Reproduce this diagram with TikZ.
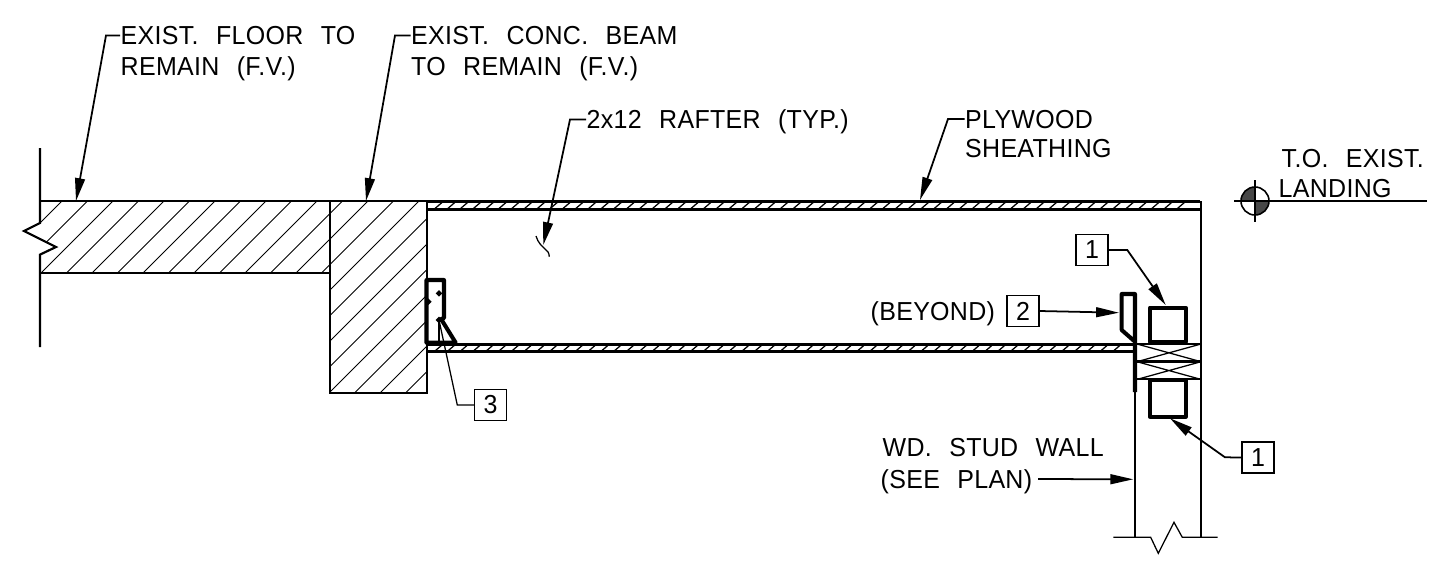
\documentclass[tikz,border=0pt]{standalone}
\usepackage{fontspec}
\setmainfont[FakeStretch=0.96,WordSpace=2.4,LetterSpace=1.2]{Liberation Sans}
\usetikzlibrary{arrows.meta}

\tikzset{
  lbl/.style={anchor=west, inner sep=0pt, text height=5.3pt, text depth=0pt, font=\fontsize{7.4}{8}\selectfont},
  tag/.style={draw, line width=0.4pt, inner sep=0pt, minimum width=0.32cm, minimum height=0.31cm, font=\fontsize{7.4}{8}\selectfont},
  leader/.style={line width=0.5pt, -{Stealth[length=6.5pt,width=2.8pt,inset=0pt]}},
  thin line/.style={line width=0.36pt},
  wall line/.style={line width=0.62pt},
  heavy line/.style={line width=0.85pt},
  metal line/.style={line width=1.15pt, line join=round}
}

\begin{document}
\begin{tikzpicture}[x=0.01cm, y=-0.01cm]
    \useasboundingbox (0,0) rectangle (1453,578);

    % draw concrete hatching
    \begin{scope}
      \clip (40,201) rectangle (331,273) (330,201) rectangle (427,393);
      \foreach \k in {0,...,22}
        \draw[line width=0.27pt] (263+25.5*\k-201,201) -- (263+25.5*\k-393,393);
    \end{scope}

    % draw floor and beam
    \draw[thin line] (40,201) -- (427,201) -- (427,393) -- (330,393) -- (330,201);
    \draw[thin line] (40,273) -- (330,273);

    % draw broken edge of floor
    \draw[fill=white, draw=none] (40,223) -- (24,231) -- (56,247) -- (40,254.6) -- cycle;
    \draw[wall line] (40,148) -- (40,223) -- (24,231) -- (56,247) -- (40,254.6) -- (40,347);

    % draw plywood
    \draw[heavy line] (427,201.7) -- (1200,201.7);
    \draw[heavy line] (427,209.3) -- (1200,209.3);
    \draw[heavy line] (427,344.5) -- (1133,344.5);
    \draw[heavy line] (427,351.7) -- (1133,351.7);
    \foreach \x in {435,447.8,...,1190}
      \draw[line width=0.36pt] (\x,208.5) -- (\x+7,202.5);
    \foreach \x in {435,447.8,...,1125}
      \draw[line width=0.36pt] (\x,351) -- (\x+7,345);

    % draw wall
    \draw[wall line] (1201,201) -- (1201,537.3);
    \draw[wall line] (1135,392) -- (1135,537.3);
    \draw[thin line] (1113.3,537.3) -- (1150.7,537.3) -- (1158.3,553.3) -- (1174,522.3) -- (1182.3,537.3) -- (1217.7,537.3);

    % draw double plate
    \draw[wall line] (1137,344) -- (1201,344);
    \draw[heavy line] (1137,361.7) -- (1201,361.7);
    \draw[wall line] (1137,379.3) -- (1201,379.3);
    \foreach \y in {344,361.7}
      \draw[thin line] (1137,\y) -- (1201,\y+17.7) (1137,\y+17.7) -- (1201,\y);

    % draw blocks
    \draw[metal line] (1150,307.7) rectangle (1185.7,341.7);
    \draw[metal line] (1150,380) rectangle (1185.7,416.7);

    % draw hangers
    \draw[metal line] (1135,341.7) -- (1121.7,330) -- (1121.7,294) -- (1135,294) -- (1135,392);
    \draw[metal line] (439,320) -- (444,318) -- (444,280) -- (426.5,280) -- (426.5,342.7) -- (455.7,342.7) -- (441.7,320);
    \draw[thin line] (439,320) -- (439,342.7);
    \foreach \x/\y in {439/293.3,439/320,428.3/301.7}
      \draw[line width=0.6pt, fill=white] (\x,\y) circle[radius=1.8];

    % draw level mark
    \fill[black!72] (1255,201) -- (1241,201) arc[start angle=180,end angle=270,radius=14] -- cycle;
    \fill[black!72] (1255,201) -- (1269,201) arc[start angle=0,end angle=90,radius=14] -- cycle;
    \draw[line width=0.45pt] (1255,201) circle[radius=14];
    \draw[line width=0.45pt] (1255,180) -- (1255,222);
    \draw[line width=0.45pt] (1234,201) -- (1427,201);

    % draw rafter mark
    \draw[thin line] (536,236) .. controls (538,243) and (542,246) .. (545,249) .. controls (548,251) and (549,253) .. (549.3,256.7);

    % draw nodes
    \draw (120,35.5) node[lbl] (floora) {EXIST. FLOOR TO};
    \draw (120,66.5) node[lbl] (floorb) {REMAIN (F.V.)};
    \draw (410.5,35.5) node[lbl] (beama) {EXIST. CONC. BEAM};
    \draw (410.5,66.5) node[lbl] (beamb) {TO REMAIN (F.V.)};
    \draw (586,119.5) node[lbl] (rafter) {2x12 RAFTER (TYP.)};
    \draw (964.5,119) node[lbl] (plya) {PLYWOOD};
    \draw (964.5,148.5) node[lbl] (plyb) {SHEATHING};
    \draw (1281,158) node[lbl] (levela) {T.O. EXIST.};
    \draw (1278,188) node[lbl] (levelb) {LANDING};
    \draw (870,311) node[lbl] (beyond) {(BEYOND)};
    \draw (882,447) node[lbl] (studa) {WD. STUD WALL};
    \draw (880,479) node[lbl] (studb) {(SEE PLAN)};
    \draw (1092,250) node[tag] (tagtop) {1};
    \draw (1023,311) node[tag] (tagclip) {2};
    \draw (490.5,405) node[tag] (taghanger) {3};
    \draw (1258,457.5) node[tag] (tagbot) {1};

    % draw leader ends
    \foreach \name/\x/\y in {floorbend/106/35.5, floortip/76/201, beambend/395/35.5, beamtip/366/201,
        rafterbend/570/119.5, raftertip/543.3/245, plybend/948/119, plytip/920/200,
        topbend/1127.3/250, toptip/1165.7/305, cliptip/1119/312.7,
        hangerbend/457.3/405, hangertip/439/320,
        botbend/1225/457.3, bottip/1170/418.3, studtip/1133.3/479.3}
      \coordinate (\name) at (\x,\y);

    % draw leaders
    \draw[leader] (floora.west) -- (floorbend) -- (floortip);
    \draw[leader] (beama.west) -- (beambend) -- (beamtip);
    \draw[leader] (rafter.west) -- (rafterbend) -- (raftertip);
    \draw[leader] (plya.west) -- (plybend) -- (plytip);
    \draw[leader] (tagtop.east) -- (topbend) -- (toptip);
    \draw[leader] (tagclip.east) -- (cliptip);
    \draw[leader] (tagbot.west) -- (botbend) -- (bottip);
    \draw[leader, shorten <=1.5pt] (studb.east) -- (studtip);
    \draw[thin line] (taghanger.west) -- (hangerbend) -- (hangertip);
  \end{tikzpicture}
\end{document}
